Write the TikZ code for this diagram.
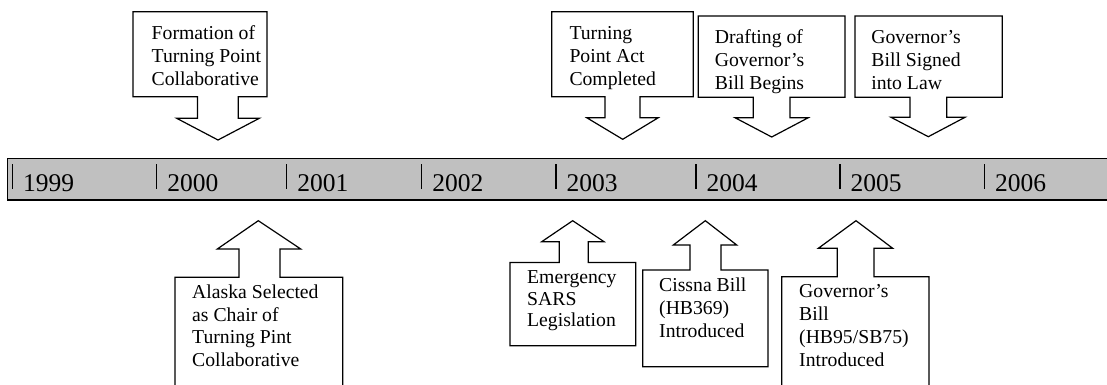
\documentclass[tikz,border=0pt]{standalone}
\usepackage{fontspec}
\setmainfont{Liberation Serif}
\begin{document}
\begin{tikzpicture}[x=1pt,y=-1pt,
  outl/.style={draw=black,line width=1.2pt,fill=white,line join=miter},
  lbl/.style={anchor=base west,inner sep=0pt,align=left,font=\fontsize{19.7}{23}\selectfont},
  yr/.style={anchor=base west,inner sep=0pt,font=\fontsize{25.5}{30}\selectfont},
  tick/.style={draw=black,line width=1.2pt}]
\useasboundingbox (0,0) rectangle (1107,385);
% timeline bar
\draw[draw=black,line width=1.3pt,fill={rgb,255:red,192;green,192;blue,192}] (7.5,158.3) rectangle (1115,200);
% year ticks and labels
\foreach \t/\y in {12.3/1999,156.7/2000,286.7/2001,421.7/2002,556/2003,696/2004,840/2005,984.3/2006}{
  \draw[tick] (\t,164) -- (\t,189);
  \node[yr] (y\y) at (\t+10.5,191) {\y};
}
% top callouts (down arrows); label anchors are the baseline of the last line
\draw[outl] (133,11.7) -- (267,11.7) -- (267,96.7) -- (238.3,96.7) -- (238.3,118.3) -- (259.3,118.3) -- (218,140) -- (176.7,118.3) -- (197.5,118.3) -- (197.5,96.7) -- (133,96.7) -- cycle;
\node[lbl] (formation) at (151.5,85.5) {Formation of\\Turning Point\\Collaborative};

\draw[outl] (551.7,11.7) -- (693.3,11.7) -- (693.3,96.7) -- (640,96.7) -- (640,117.7) -- (658.3,117.7) -- (622.7,139.3) -- (586.7,117.7) -- (605,117.7) -- (605,96.7) -- (551.7,96.7) -- cycle;
\node[lbl] (tpact) at (569.3,85.5) {Turning\\Point Act\\Completed};

\draw[outl] (698.3,16) -- (845,16) -- (845,97.3) -- (790,97.3) -- (790,117.7) -- (808.3,117.7) -- (771.7,137) -- (735,117.7) -- (753.3,117.7) -- (753.3,97.3) -- (698.3,97.3) -- cycle;
\node[lbl] (drafting) at (714.7,89.3) {Drafting of\\Governor’s\\Bill Begins};

\draw[outl] (855,16) -- (1002.3,16) -- (1002.3,97.3) -- (946.7,97.3) -- (946.7,117.3) -- (965,117.3) -- (928.3,136.7) -- (891,117.3) -- (910,117.3) -- (910,97.3) -- (855,97.3) -- cycle;
\node[lbl] (signed) at (871.2,89.5) {Governor’s\\Bill Signed\\into Law};

% bottom callouts (up arrows)
\draw[outl] (175,277.3) -- (239,277.3) -- (239,249) -- (217.3,249) -- (258.3,220.7) -- (300.7,249) -- (280,249) -- (280,277.3) -- (342.7,277.3) -- (342.7,400) -- (175,400) -- cycle;
\node[lbl,font=\fontsize{19.7}{22.8}\selectfont] (alaska) at (192,366.7) {Alaska Selected\\as Chair of\\Turning Pint\\Collaborative};

\draw[outl] (510,262.5) -- (559.3,262.5) -- (559.3,241.7) -- (541.7,241.7) -- (572.7,220.7) -- (604,241.7) -- (588.3,241.7) -- (588.3,262.5) -- (635.7,262.5) -- (635.7,345.7) -- (510,345.7) -- cycle;
\node[lbl,font=\fontsize{19.7}{21.8}\selectfont] (sars) at (527,326.8) {Emergency\\SARS\\Legislation};

\draw[outl] (642.7,270) -- (690,270) -- (690,245) -- (673.3,245) -- (705.3,220.7) -- (736.7,245) -- (721,245) -- (721,270) -- (768,270) -- (768,366.7) -- (642.7,366.7) -- cycle;
\node[lbl,font=\fontsize{19.7}{22.8}\selectfont] (cissna) at (659,337.3) {Cissna Bill\\(HB369)\\Introduced};

\draw[outl] (781.7,276.7) -- (837.3,276.7) -- (837.3,248.3) -- (818.3,248.3) -- (856,220.7) -- (892.7,248.3) -- (874,248.3) -- (874,276.7) -- (929,276.7) -- (929,400) -- (781.7,400) -- cycle;
\node[lbl] (govbill) at (799,366.7) {Governor’s\\Bill\\(HB95/SB75)\\Introduced};
\end{tikzpicture}
\end{document}
